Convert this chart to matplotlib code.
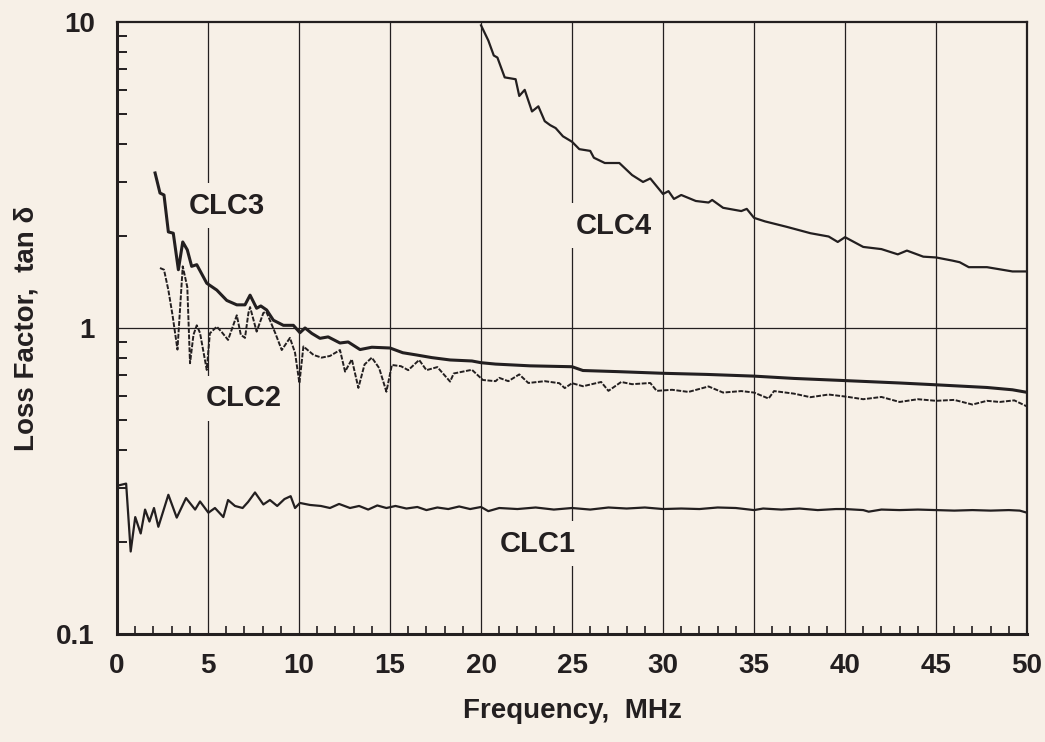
import numpy as np
import matplotlib
matplotlib.use("Agg")
import matplotlib.pyplot as plt
from matplotlib.ticker import MultipleLocator, LogLocator, NullFormatter, FixedLocator

# values (frequency in MHz, loss factor)
clc1_f = [0.0, 0.5, 0.75, 1.0, 1.3, 1.54, 1.78, 2.03, 2.27, 2.82, 3.28, 3.79, 4.29, 4.56,
          5.02, 5.38, 5.84, 6.1, 6.48, 6.9, 7.2, 7.58, 8.04, 8.4, 8.8, 9.2, 9.54, 9.78,
          10.05, 10.6, 11.2, 11.7, 12.2, 12.8, 13.3, 13.8, 14.3, 14.8, 15.3, 15.9, 16.5,
          17.0, 17.6, 18.2, 18.8, 19.4, 20.0, 20.4, 21.0, 22.0, 23.0, 24.0, 25.0, 26.0,
          27.0, 28.0, 29.0, 30.0, 31.0, 32.0, 33.0, 34.0, 35.0, 35.5, 36.5, 37.5, 38.5,
          39.5, 40.0, 41.0, 41.3, 42.0, 43.0, 44.0, 45.0, 46.0, 47.0, 48.0, 49.0, 49.6, 50.0]
clc1_tan = [0.305, 0.31, 0.186, 0.241, 0.213, 0.255, 0.233, 0.258, 0.224, 0.285, 0.24, 0.278,
            0.255, 0.271, 0.249, 0.258, 0.241, 0.274, 0.262, 0.258, 0.27, 0.29, 0.265, 0.274,
            0.262, 0.276, 0.282, 0.258, 0.268, 0.264, 0.262, 0.258, 0.266, 0.258, 0.262,
            0.255, 0.263, 0.258, 0.262, 0.257, 0.26, 0.254, 0.259, 0.256, 0.261, 0.256, 0.26,
            0.252, 0.258, 0.256, 0.259, 0.255, 0.258, 0.255, 0.259, 0.257, 0.259, 0.256,
            0.257, 0.256, 0.259, 0.258, 0.254, 0.257, 0.255, 0.257, 0.254, 0.256, 0.256,
            0.254, 0.251, 0.255, 0.254, 0.255, 0.254, 0.253, 0.254, 0.253, 0.254, 0.253, 0.249]

clc2_f = [2.36, 2.58, 2.82, 3.05, 3.32, 3.61, 3.86, 4.01, 4.2, 4.38, 4.56, 4.93, 5.1, 5.48,
          5.75, 6.1, 6.58, 6.8, 7.03, 7.22, 7.31, 7.67, 8.04, 8.2, 8.4, 8.7, 9.05, 9.5, 9.78,
          10.02, 10.24, 10.8, 11.24, 11.7, 12.25, 12.53, 12.9, 13.26, 13.6, 14.0, 14.4, 14.8,
          15.1, 15.6, 16.0, 16.6, 17.0, 17.6, 18.3, 18.5, 19.0, 19.5, 20.1, 20.8, 21.0, 21.5,
          22.1, 22.6, 23.5, 24.3, 24.6, 25.0, 25.6, 26.6, 27.0, 27.7, 28.3, 29.3, 29.65,
          30.5, 31.4, 32.5, 33.3, 34.3, 35.0, 35.8, 36.1, 37.2, 38.1, 39.1, 40.1, 41.0,
          42.0, 43.0, 44.0, 45.0, 46.0, 47.0, 47.8, 48.5, 49.3, 50.0]
clc2_tan = [1.57, 1.55, 1.33, 1.1, 0.85, 1.59, 1.36, 0.767, 0.95, 1.02, 0.963, 0.729, 0.96,
            1.01, 0.97, 0.914, 1.10, 0.95, 0.928, 1.12, 1.17, 0.973, 1.12, 1.13, 1.06, 0.96,
            0.847, 0.928, 0.83, 0.66, 0.87, 0.816, 0.80, 0.81, 0.847, 0.72, 0.79, 0.637, 0.76,
            0.80, 0.74, 0.619, 0.757, 0.75, 0.728, 0.786, 0.728, 0.745, 0.668, 0.71, 0.72,
            0.73, 0.676, 0.67, 0.687, 0.67, 0.705, 0.661, 0.67, 0.66, 0.636, 0.66, 0.645,
            0.666, 0.623, 0.666, 0.655, 0.661, 0.623, 0.628, 0.618, 0.644, 0.615, 0.622,
            0.615, 0.588, 0.622, 0.61, 0.594, 0.606, 0.596, 0.585, 0.595, 0.573, 0.585,
            0.578, 0.582, 0.562, 0.578, 0.573, 0.58, 0.554]

clc3_f = [2.09, 2.36, 2.58, 2.82, 3.09, 3.37, 3.61, 3.86, 4.1, 4.38, 4.93, 5.48, 6.03, 6.58,
          7.03, 7.31, 7.67, 7.9, 8.22, 8.59, 9.14, 9.69, 10.05, 10.33, 10.7, 11.15, 11.6,
          12.25, 12.7, 13.35, 14.0, 15.0, 15.7, 16.46, 17.3, 18.3, 19.5, 20.0, 20.8, 22.7,
          25.0, 25.6, 27.5, 30.0, 32.4, 35.0, 37.2, 40.0, 43.0, 45.0, 47.8, 49.2, 50.0]
clc3_tan = [3.21, 2.76, 2.72, 2.06, 2.04, 1.55, 1.91, 1.80, 1.59, 1.61, 1.40, 1.33, 1.23,
            1.19, 1.19, 1.28, 1.16, 1.18, 1.145, 1.06, 1.02, 1.02, 0.965, 1.0, 0.96, 0.925,
            0.935, 0.893, 0.90, 0.85, 0.865, 0.86, 0.83, 0.816, 0.80, 0.786, 0.78, 0.77,
            0.762, 0.752, 0.747, 0.726, 0.72, 0.711, 0.705, 0.696, 0.684, 0.673, 0.661,
            0.652, 0.639, 0.628, 0.616]

clc4_f = [20.0, 20.4, 20.7, 20.9, 21.3, 21.9, 22.1, 22.4, 22.8, 23.15, 23.5, 23.8, 24.1,
          24.5, 25.0, 25.4, 26.0, 26.2, 26.8, 27.6, 28.3, 28.9, 29.3, 30.0, 30.3, 30.6, 31.0,
          31.8, 32.5, 32.7, 33.3, 34.3, 34.6, 35.0, 35.6, 36.8, 38.1, 39.1, 39.6, 40.0, 41.0,
          42.0, 42.9, 43.4, 44.3, 45.0, 45.9, 46.3, 46.8, 47.8, 49.2, 50.0]
clc4_tan = [9.75, 8.7, 7.77, 7.65, 6.59, 6.5, 5.73, 6.0, 5.1, 5.3, 4.74, 4.6, 4.5, 4.23,
            4.06, 3.84, 3.79, 3.6, 3.46, 3.46, 3.16, 3.0, 3.08, 2.74, 2.8, 2.64, 2.72, 2.6,
            2.57, 2.62, 2.47, 2.41, 2.45, 2.29, 2.23, 2.14, 2.04, 1.99, 1.91, 1.98, 1.84,
            1.81, 1.74, 1.79, 1.71, 1.70, 1.66, 1.64, 1.58, 1.58, 1.53, 1.53]

labels = ["CLC1", "CLC2", "CLC3", "CLC4"]
label_f = [23.1, 6.94, 6.02, 27.3]
label_tan = [0.197, 0.589, 2.51, 2.16]

bg = "#f7f0e7"
ink = "#231f20"
plt.rcParams['font.family'] = ['Liberation Sans', 'DejaVu Sans']
plt.rcParams['font.weight'] = 'bold'

fig = plt.figure(figsize=(10.45, 7.42), dpi=100, facecolor=bg)
ax = fig.add_axes([0.112, 0.1456, 0.8708, 0.8248], facecolor=bg)

ax.set_yscale('log')
ax.set_xlim(0, 50)
ax.set_ylim(0.1, 10)

# grid: vertical every 5 MHz, horizontal only at 1
for xv in range(5, 50, 5):
    ax.axvline(xv, color=ink, lw=0.9, zorder=1)
ax.axhline(1, color=ink, lw=0.9, zorder=1)

ax.plot(clc1_f, clc1_tan, color=ink, lw=1.6, zorder=3)
ax.plot(clc2_f, clc2_tan, color=ink, lw=1.4, ls=(0, (2.5, 0.8)), zorder=3)
ax.plot(clc3_f, clc3_tan, color=ink, lw=2.2, zorder=3)
ax.plot(clc4_f, clc4_tan, color=ink, lw=1.6, zorder=3)

for name, f, t in zip(labels, label_f, label_tan):
    ax.text(f, t, name, fontsize=21, fontweight='bold', color=ink, ha='center', va='center',
            zorder=2, bbox=dict(facecolor=bg, edgecolor='none', pad=6))

ax.xaxis.set_major_locator(MultipleLocator(5))
ax.xaxis.set_minor_locator(MultipleLocator(1))
ax.yaxis.set_major_locator(FixedLocator([0.1, 1, 10]))
ax.yaxis.set_minor_locator(LogLocator(base=10, subs=np.arange(2, 10)))
ax.yaxis.set_minor_formatter(NullFormatter())
ax.set_yticklabels(['0.1', '1', '10'])

ax.tick_params(axis='x', which='major', direction='in', length=0, pad=14, labelsize=20, colors=ink)
ax.tick_params(axis='x', which='minor', direction='in', length=6, width=1.2, colors=ink)
ax.tick_params(axis='y', which='major', direction='in', length=0, pad=16, labelsize=20, colors=ink)
ax.tick_params(axis='y', which='minor', direction='in', length=7, width=1.4, colors=ink)

for side in ['left', 'bottom']:
    ax.spines[side].set_linewidth(2.2)
for side in ['top', 'right']:
    ax.spines[side].set_linewidth(1.6)
for s in ax.spines.values():
    s.set_color(ink)

ax.set_xlabel('Frequency,  MHz', fontsize=20, fontweight='bold', color=ink)
ax.set_ylabel('Loss Factor,  tan \u03b4', fontsize=20, fontweight='bold', color=ink)
ax.xaxis.set_label_coords(0.5, -0.105)
ax.yaxis.set_label_coords(-0.085, 0.5)

fig.savefig('out.png', dpi=100, facecolor=bg)
